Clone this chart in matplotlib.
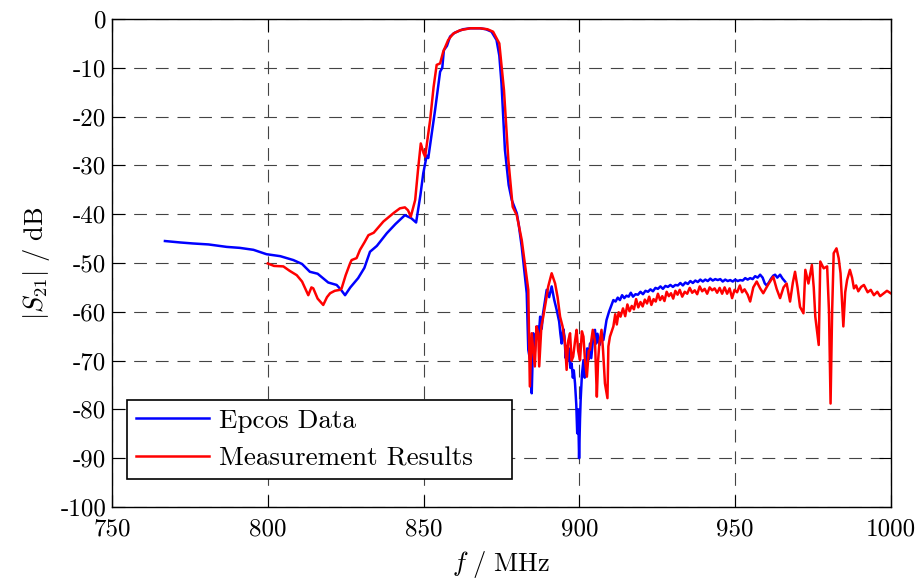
import matplotlib
matplotlib.use('Agg')
import matplotlib.pyplot as plt

plt.rcParams['font.family'] = ['cmr10', 'DejaVu Serif']
plt.rcParams['mathtext.fontset'] = 'cm'
plt.rcParams['axes.unicode_minus'] = False
plt.rcParams['axes.formatter.use_mathtext'] = False

# Epcos datasheet curve
f_epcos = [767, 772, 776, 781, 786.8, 791, 795.4, 799.6, 804, 808.2, 811, 813.5, 816, 819.4,
           822.1, 823.5, 824.8, 826.5, 829, 831, 832.8, 835, 838.2, 841, 844, 846, 847.6,
           849, 849.9, 851, 851.5, 852.5, 853.7, 855.3, 856, 856.5, 857.5, 858.5, 860, 862.7,
           865, 868.1, 870, 871.8, 873.4, 874.3, 875.0, 876.1, 877.3, 878.3, 879.9, 880.5,
           881.5, 883.1, 883.6, 884.2, 884.7, 885.2, 885.6, 886, 886.5, 886.9, 887.4, 887.9,
           888.3, 888.9, 889.5, 890.3, 891.1, 891.9, 892.7, 893.5, 893.9, 894.3, 894.8, 895.2,
           895.6, 895.9, 896.3, 896.6, 897.1, 897.5, 897.9, 898.2, 898.6, 899.0, 899.3,
           899.6, 899.9, 900.2, 900.4, 900.8, 901.3, 901.7, 902, 902.5, 902.9, 903.4, 903.8,
           904.4, 905.0, 905.4, 905.8, 906.5, 907.1, 907.7, 908.7, 909.5, 910.2, 910.9,
           911.6, 912.3, 913, 913.7, 914.4, 915.1, 915.8, 916.5, 917.2, 918, 918.8, 919.6,
           920.4, 921.2, 922, 922.8, 923.6, 924.4, 925.2, 926, 926.8, 927.6, 928.4, 929.2,
           930, 930.8, 931.6, 932.4, 933.2, 934, 934.8, 935.6, 936.4, 937.2, 938, 938.8,
           939.6, 940.4, 941.2, 942, 942.8, 943.6, 944.4, 945.2, 946, 946.8, 947.6, 948.4,
           949.2, 950, 950.8, 951.6, 952.4, 953.2, 954, 954.8, 955.6, 956.4, 957.2, 958,
           958.8, 959.5, 960.1, 960.8, 961.5, 962.2, 962.8, 963.5, 964.4, 965.2, 966.0]
s21_epcos = [-45.5, -45.8, -46.0, -46.2, -46.7, -46.9, -47.3, -48.2, -48.6, -49.4, -50.2, -51.8,
             -52.2, -54.0, -54.5, -55.5, -56.6, -55.0, -53.1, -51.0, -47.7, -46.5, -43.9, -42.0,
             -40.2, -40.8, -41.7, -36, -31.6, -28.0, -28.5, -24, -18.6, -10.8, -10, -6.4, -5.5,
             -3.6, -2.8, -2.1, -1.9, -1.9, -2.1, -2.6, -4.3, -7.5, -13.2, -26.8, -34, -37.1,
             -39.8, -42, -46.7, -56.2, -67.8, -70, -76.7, -64.4, -69, -66, -63, -65.5, -61.0,
             -63.5, -60.5, -58, -55.5, -57, -54.8, -57.5, -59.6, -62, -64.5, -66.5, -63.5, -65,
             -69.5, -67, -70, -67.5, -71.5, -70.6, -73.5, -72, -74.7, -79, -84.9,
             -80, -90.0, -82, -78.1, -73, -69.9, -73.5, -72, -67.5, -69.8, -66.5, -69.5,
             -65.5, -63.7, -66.5, -64.5, -66.8, -65.1, -65.8, -61.7, -60.0, -58.8, -57.6,
             -57.9, -57.1, -57.6, -56.6, -57.2, -56.7, -56.9, -56.1, -56.9, -56.4, -56.5, -55.9,
             -56.4, -55.7, -55.9, -55.4, -55.8, -55.1, -55.3, -54.8, -55.3, -54.7, -54.9, -54.5,
             -54.9, -54.5, -54.6, -54.1, -54.6, -54.0, -54.3, -53.7, -54.1, -53.6, -53.9, -53.4,
             -53.8, -53.4, -53.7, -53.2, -53.6, -53.3, -53.5, -53.3, -53.8, -53.4, -53.7, -53.5,
             -53.8, -53.4, -53.7, -53.5, -53.6, -53.1, -53.4, -53.1, -53.3, -52.7, -53.0, -52.4,
             -53.0, -54.2, -54.6, -54.0, -53.2, -52.6, -52.4, -53.0, -52.4, -53.2, -53.8]

# measured curve
f_meas = [800, 802, 805, 807, 809.3, 811, 813, 814, 814.6, 816, 817.8, 819, 820, 821.5, 823.2,
          823.7, 825, 826.4, 826.9, 828.5, 829.6, 831, 832.3, 834, 835.5, 837.1, 839, 840.5,
          842.4, 844.0, 845.0, 845.9, 847.3, 848.2, 849.1, 850.0, 850.5, 852.1, 853.2, 854.2,
          855.3, 856.3, 857.9, 859.5, 861.7, 865, 868.1, 870.5, 872.3, 874.3, 875.8, 877.2,
          878.6, 879.9, 881.5, 882.5, 883.6, 884.1, 884.7, 885.7, 886.2, 886.8, 887.1, 887.8,
          888.4, 889.2, 890.0, 891.1, 892.2, 893, 893.8, 894.6, 895.4, 895.9, 896.4, 897.0,
          897.5, 898.0, 898.6, 899.1, 899.6, 900.2, 900.8, 901.3, 901.8, 902.4, 903, 903.4,
          904.3, 905, 905.6, 906.0, 906.4, 907.1, 907.6, 908.2, 909.0, 909.3, 909.8, 910.9,
          911.5, 912, 912.6, 913.2, 914, 914.7, 915.4, 916.1, 916.8, 917.5, 918.2, 918.9,
          919.6, 920.3, 921, 921.7, 922.4, 923.1, 923.8, 924.5, 925.2, 925.9, 926.6, 927.3,
          928, 928.7, 929.4, 930.1, 930.8, 931.5, 932.2, 933, 933.8, 934.6, 935.4, 936.2,
          937, 937.8, 938.6, 939.4, 940.2, 941, 941.8, 942.6, 943.4, 944.2, 945, 945.8,
          946.6, 947.4, 948.2, 949, 949.8, 950.6, 951.5, 952.2, 953, 954, 954.8, 955.8, 956.9,
          958, 959.0, 960.5, 962.2, 963.3, 964.4, 965.5, 966.5, 967.6, 968.5, 969.2, 970.0,
          970.8, 971.9, 972.5, 973.5, 974.6, 975.2, 975.7, 976.8, 977.3, 978.4, 979.5, 980.1,
          980.6, 981.1, 981.6, 982.5, 983.2, 983.8, 984.7, 985.3, 985.9, 986.8, 987.5, 988.1,
          988.8, 989.5, 990.4, 991.3, 992.5, 993.5, 994.5, 995.6, 996.5, 997.5, 998.7, 999.9]
s21_meas = [-50.1, -50.6, -50.7, -51.6, -52.5, -53.8, -56.6, -55.0, -55.2, -57.3, -58.6, -57.0,
            -56.2, -55.7, -55.5, -55.2, -52.5, -50.1, -49.4, -49.0, -47.3, -45.8, -44.3, -43.8,
            -42.7, -41.5, -40.5, -39.7, -38.8, -38.6, -39.2, -40.5, -37.1, -31, -25.5, -27.5,
            -28.2, -20.7, -14, -9.4, -9.1, -6.7, -4.3, -3.0, -2.3, -1.9, -1.9, -2.1, -2.6, -5.0,
            -14.6, -28.9, -38.5, -40.2, -45.3, -50.1, -55.5, -75.3, -64.4, -71.2, -63, -64.4,
            -71.2, -63, -61.0, -58, -54.8, -52.1, -54.2, -57, -61.0, -63, -66.5, -71.9, -66,
            -64.4, -70, -69.2, -66, -63.7, -68, -69.9, -64, -65.1, -70, -73.3, -68, -67.8, -63.7,
            -66, -77.4, -70, -66.5, -63.7, -68, -74.7, -77.7, -67.1, -65.1, -63.0,
            -60.5, -62.6, -60.1, -61.0, -59.3, -60.9, -58.5, -59.9, -58.8, -59.5, -57.4, -59.1,
            -58.0, -58.9, -57.5, -58.3, -56.9, -58.6, -57.4, -57.9, -56.3, -57.6, -56.8, -57.8,
            -55.9, -56.8, -56.2, -57.3, -55.7, -56.5, -55.5, -56.9, -55.9, -56.3, -55.1, -56.1,
            -55.6, -56.4, -54.8, -55.8, -55.3, -56.3, -55.0, -55.6, -55.2, -56.1, -55.1, -56.3,
            -55.0, -56.3, -55.2, -57.2, -55.5, -56.0, -54.6, -56.0, -55.4, -56.5, -57.9, -55,
            -53.8, -55.2, -56.2, -54.5, -52.8, -55.3, -57.2, -55, -54.2, -57.9, -54, -51.8, -55,
            -59.0, -60.3, -51.4, -54.2, -50.4, -55, -61.0, -66.8, -49.7, -51.1, -50.7, -60,
            -78.8, -60, -48.0, -47.0, -49, -52.1, -63.0, -56, -53.5, -51.4, -53, -55.2,
            -54.6, -55.8, -54.9, -54.5, -56, -55.5, -56.6, -55.9, -56.8, -56.3, -55.7, -56.2]

x_ticks = [750, 800, 850, 900, 950, 1000]
y_ticks = [-100, -90, -80, -70, -60, -50, -40, -30, -20, -10, 0]

fig = plt.figure(figsize=(9.2, 5.83), dpi=100)
ax = fig.add_axes([0.1217, 0.1304, 0.8468, 0.8370])

ax.plot(f_epcos, s21_epcos, color='blue', lw=1.8, label='Epcos Data')
ax.plot(f_meas, s21_meas, color='red', lw=1.8, label='Measurement Results')

ax.set_xlim(750, 1000)
ax.set_ylim(-100, 0)
ax.set_xticks(x_ticks)
ax.set_yticks(y_ticks)
ax.set_xticklabels([str(v) for v in x_ticks])
ax.set_yticklabels([str(v) for v in y_ticks])
ax.tick_params(direction='in', length=9, width=0.8, top=True, right=True,
               labelsize=18, pad=4)
ax.tick_params(axis='x', pad=8)
ax.grid(True, color='#444444', linestyle=(0, (11.5, 8)), linewidth=0.8)
ax.set_axisbelow(True)
for sp in ax.spines.values():
    sp.set_linewidth(1.0)

ax.set_xlabel(r'$f\ /\ \mathrm{MHz}$', fontsize=19, labelpad=6)
ax.set_ylabel(r'$|S_{21}|\ /\ \mathrm{dB}$', fontsize=19, labelpad=6)

leg = ax.legend(loc='lower left', bbox_to_anchor=(0.0195, 0.0574, 0.494, 0.1), mode='expand',
                borderaxespad=0, fontsize=19.5, fancybox=False, edgecolor='black',
                framealpha=1, handlelength=2.7, handletextpad=0.37, labelspacing=0.5,
                borderpad=0.32)
leg.get_frame().set_linewidth(1.2)

fig.savefig('out.png', dpi=100)
